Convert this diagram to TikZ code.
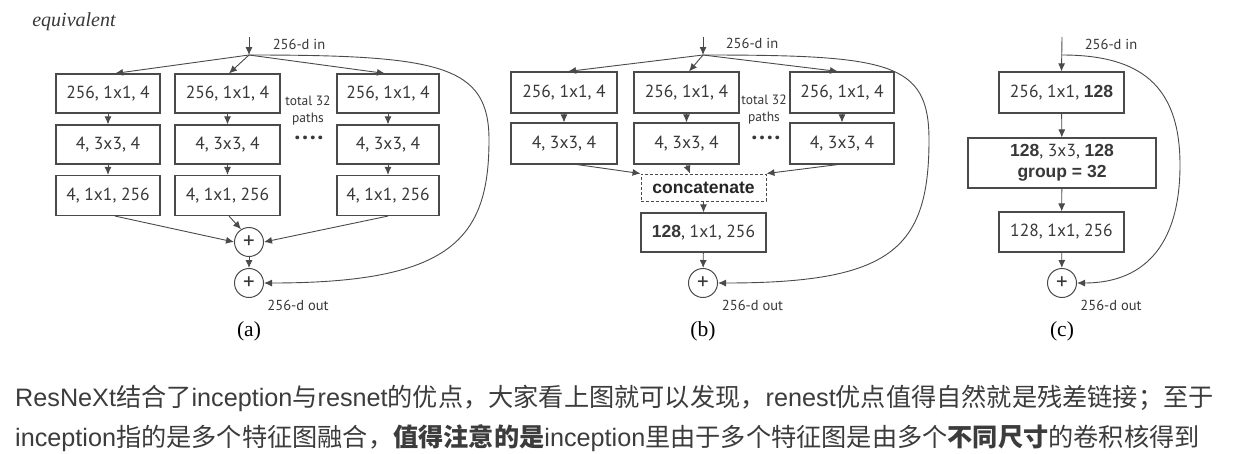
\documentclass[tikz,border=0pt]{standalone}
\usepackage{fontspec}
\setmainfont{Liberation Serif}
\newfontfamily\bx{PT Sans}
\newfontfamily\bb{Liberation Sans}
\newfontfamily\lf{Liberation Sans}
\newfontfamily\cjk{Noto Sans CJK SC}
\usetikzlibrary{arrows.meta}
\definecolor{ln}{HTML}{4A4A4A}
\definecolor{tx}{HTML}{383838}
\definecolor{para}{HTML}{3C3C3C}
\tikzset{
  blk/.style={draw=ln, line width=1.1pt, inner sep=0pt, text=tx, font=\bx\fontsize{17.5}{21}\selectfont},
  dblk/.style={blk, dashed, dash pattern=on 3pt off 2pt, line width=0.9pt},
  conn/.style={draw=ln, line width=0.9pt, -{Latex[length=8pt,width=7pt]}},
  plusn/.style={circle, draw=ln, line width=1pt, minimum size=29pt, inner sep=0pt, text=tx, font=\bx\fontsize{23}{23}\selectfont},
  lbl/.style={text=tx, inner sep=0pt, font=\bx\fontsize{14.5}{16}\selectfont},
  small/.style={text=tx, inner sep=0pt, align=center, font=\bx\fontsize{13.5}{17}\selectfont},
  dots/.style={text=tx, inner sep=0pt, font=\bx\bfseries\fontsize{24}{24}\selectfont},
  captxt/.style={text=black, inner sep=0pt, font=\fontsize{21.5}{21.5}\selectfont},
  ptext/.style={text=para, inner sep=0pt, anchor=base west, font=\fontsize{25.2}{25.2}\selectfont},
}
\newcommand\B[1]{{\bb\bfseries #1}}
\newcommand\fourdots{·\hspace{1.6pt}·\hspace{1.6pt}·\hspace{1.6pt}·}
\begin{document}
\begin{tikzpicture}[x=1pt,y=-1pt]
\useasboundingbox (0,0) rectangle (1242,453);
\fill[white] (0,0) rectangle (1242,453);

% ---------------- (a) ----------------
\node[text=tx, inner sep=0pt, font=\itshape\fontsize{20}{20}\selectfont] (eq) at (74,22) {equivalent};
\coordinate (ain) at (249,37);
\coordinate (afork) at (249,55);
\node[lbl] (aint) at (299,44) {256-d in};

\foreach \n/\cx/\w in {1/108/104, 2/227.5/105, 3/388/102}{
  \node[blk, minimum width=\w pt, minimum height=39pt] (a\n1) at (\cx,93.5) {256, 1x1, 4};
  \node[blk, minimum width=\w pt, minimum height=39pt] (a\n2) at (\cx,144.5) {4, 3x3, 4};
  \node[blk, minimum width=\w pt, minimum height=40pt] (a\n3) at (\cx,195.5) {4, 1x1, 256};
}
\node[small] (atot) at (308,110.5) {total 32\\paths};
\node[dots] (adots) at (309,141) {\fourdots};

\node[plusn] (ap1) at (249,242) {+};
\node[plusn] (ap2) at (249,283) {+};
\node[lbl] (aout) at (298,305) {256-d out};
\node[captxt] (acap) at (249,331) {(a)};

\draw[conn] (ain) -- (afork);
\draw[conn] (afork) -- ([xshift=7pt]a11.north);
\draw[conn] (afork) -- ([xshift=1.5pt]a21.north);
\draw[conn] (afork) -- ([xshift=-3pt]a31.north);
\foreach \n in {1,2,3}{
  \draw[conn] (a\n1) -- (a\n2);
  \draw[conn] (a\n2) -- (a\n3);
}
\draw[conn] ([xshift=7pt]a13.south) -- (ap1.west);
\draw[conn] ([xshift=1.5pt]a23.south) -- (ap1.122);
\draw[conn] (a33.south) -- (ap1.east);
\draw[conn] (ap1) -- (ap2);
\draw[conn] (afork) .. controls (440,55) and (489,65) .. (489,140)
                    .. controls (489,240) and (450,283) .. (ap2.east);

% ---------------- (b) ----------------
\coordinate (bin) at (703,37);
\coordinate (bfork) at (703,55);
\node[lbl] (bint) at (752,43) {256-d in};
\foreach \n/\cx/\w in {1/564/106, 2/686.5/105, 3/842/104}{
  \node[blk, minimum width=\w pt, minimum height=41pt] (b\n1) at (\cx,92.5) {256, 1x1, 4};
  \node[blk, minimum width=\w pt, minimum height=41pt] (b\n2) at (\cx,143.5) {4, 3x3, 4};
}
\node[small] (btot) at (764,109.5) {total 32\\paths};
\node[dots] (bdots) at (766,141) {\fourdots};
\node[dblk, minimum width=125pt, minimum height=27pt, font=\bb\bfseries\fontsize{17.5}{18}\selectfont, text=black!85] (bcat) at (703.5,187.5) {concatenate};
\node[blk, minimum width=125pt, minimum height=39pt] (bred) at (703.5,232.5) {\B{128}, 1x1, 256};
\node[plusn] (bp) at (703,283) {+};
\node[lbl] (bout) at (752.5,305) {256-d out};
\node[captxt] (bcap) at (703,331) {(b)};

\draw[conn] (bin) -- (bfork);
\draw[conn] (bfork) -- ([xshift=4pt]b11.north);
\draw[conn] (bfork) -- ([xshift=2.5pt]b21.north);
\draw[conn] (bfork) -- ([xshift=-4pt]b31.north);
\foreach \n in {1,2,3}{
  \draw[conn] (b\n1) -- (b\n2);
}
\draw[conn] ([xshift=13pt]b12.south) -- (bcat.north west);
\draw[conn] (b22.south) -- ([xshift=-13.5pt]bcat.north);
\draw[conn] ([xshift=-4pt]b32.south) -- (bcat.north east);
\draw[conn] (bcat) -- (bred);
\draw[conn] (bred) -- (bp);
\draw[conn] (bfork) .. controls (890,55) and (929,62) .. (929,140)
                    .. controls (929,250) and (890,283) .. (bp.east);

% ---------------- (c) ----------------
\coordinate (cin) at (1062,37);
\coordinate (cfork) at (1062,55);
\node[lbl] (cint) at (1111,44) {256-d in};
\node[blk, minimum width=125pt, minimum height=41pt] (c1) at (1061.5,92.5) {256, 1x1, \B{128}};
\node[blk, minimum width=188pt, minimum height=50pt, align=center, font=\bx\fontsize{17.5}{21}\selectfont] (c2) at (1062,163) {\B{128}, 3x3, \B{128}\\\B{group = 32}};
\node[blk, minimum width=125pt, minimum height=40pt] (c3) at (1061.5,232) {128, 1x1, 256};
\node[plusn] (cp) at (1062,283) {+};
\node[lbl] (cout) at (1111,305) {256-d out};
\node[captxt] (ccap) at (1062,331) {(c)};

\draw[conn] (cin) -- (c1.north);
\draw[conn] (c1) -- (c2);
\draw[conn] (c2) -- (c3);
\draw[conn] (c3) -- (cp);
\draw[conn] (cfork) .. controls (1140,55) and (1180,85) .. (1180,165)
                    .. controls (1180,250) and (1140,283) .. (cp.east);

% ---------------- paragraph ----------------
\node[ptext] (line1) at (15,406) {{\lf ResNeXt}{\cjk 结合了}{\lf inception}{\cjk 与}{\lf resnet}{\cjk 的优点，大家看上图就可以发现，}{\lf renest}{\cjk 优点值得自然就是残差链接；至于}};
\node[ptext] (line2) at (15,446) {{\lf inception}{\cjk 指的是多个特征图融合，}{\cjk\bfseries 值得注意的是}{\lf inception}{\cjk 里由于多个特征图是由多个}{\cjk\bfseries 不同尺寸}{\cjk 的卷积核得到}};
\end{tikzpicture}
\end{document}
